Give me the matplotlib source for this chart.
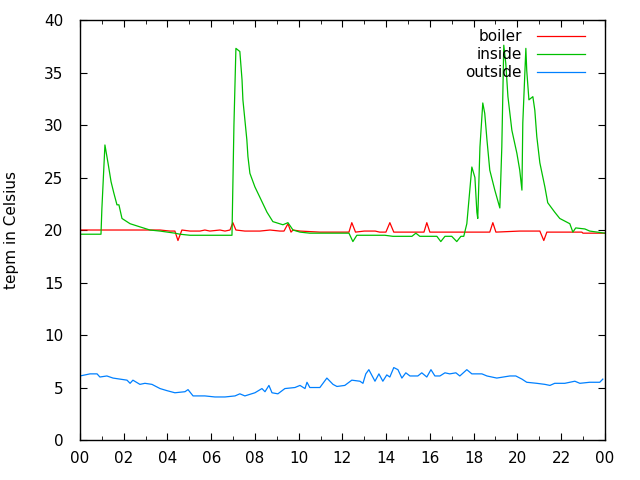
import numpy as np
import matplotlib
matplotlib.use('Agg')
import matplotlib.pyplot as plt
from matplotlib.ticker import MultipleLocator, FuncFormatter

# boiler (hours, deg C)
boiler_t = [0, 3.66, 4.11, 4.34, 4.48, 4.66, 5.03, 5.49, 5.71, 5.94, 6.4, 6.63, 6.86, 6.99, 7.13,
            7.54, 8.23, 8.69, 9.14, 9.33, 9.51, 9.65, 9.74, 10.06, 10.97, 12.3, 12.43, 12.6, 13.0,
            13.5, 13.7, 13.99, 14.17, 14.35, 15.73, 15.86, 16.0, 18.74, 18.88, 19.02, 20.11, 21.03,
            21.21, 21.35, 22.95, 23.0, 24.0]
boiler_v = [20.0, 20.0, 19.9, 19.9, 19.0, 20.0, 19.9, 19.9, 20.0, 19.9, 20.0, 19.9, 20.0, 20.7, 20.0,
            19.9, 19.9, 20.0, 19.9, 19.9, 20.6, 19.8, 20.0, 19.9, 19.8, 19.8, 20.7, 19.8, 19.9,
            19.9, 19.8, 19.8, 20.7, 19.8, 19.8, 20.7, 19.8, 19.8, 20.7, 19.8, 19.9, 19.9,
            19.0, 19.8, 19.8, 19.7, 19.7]

# inside
inside_t = [0, 0.96, 1.0, 1.14, 1.28, 1.42, 1.55, 1.69, 1.78, 1.92, 2.29, 2.74, 3.2, 3.66, 4.34,
            4.57, 5.03, 6.95, 7.04, 7.13, 7.31, 7.41, 7.45, 7.54, 7.63, 7.68, 7.77, 8.0, 8.23,
            8.55, 8.82, 9.28, 9.51, 9.74, 10.06, 10.51, 12.3, 12.48, 12.66, 13.94, 14.31, 15.18,
            15.36, 15.54, 16.32, 16.5, 16.69, 17.0, 17.23, 17.42, 17.55, 17.69, 17.92, 18.06,
            18.15, 18.19, 18.29, 18.42, 18.51, 18.61, 18.74, 18.97, 19.2, 19.29, 19.38, 19.47,
            19.57, 19.75, 19.98, 20.11, 20.21, 20.25, 20.39, 20.43, 20.53, 20.71, 20.8, 20.89,
            21.03, 21.26, 21.39, 21.71, 21.94, 22.4, 22.54, 22.67, 23.09, 23.31, 24.0]
inside_v = [19.6, 19.6, 22.0, 28.1, 26.4, 24.6, 23.5, 22.4, 22.4, 21.1, 20.6, 20.3, 20.0, 19.9, 19.7,
            19.6, 19.5, 19.5, 30.0, 37.3, 37.0, 34.3, 32.4, 30.5, 28.6, 27.0, 25.4, 24.1, 23.1,
            21.7, 20.8, 20.5, 20.7, 20.0, 19.8, 19.7, 19.7, 18.9, 19.5, 19.5, 19.4, 19.4,
            19.7, 19.4, 19.4, 18.9, 19.4, 19.4, 18.9, 19.4, 19.4, 20.6, 26.0, 25.0,
            21.7, 21.1, 27.9, 32.1, 31.1, 28.6, 25.7, 23.8, 22.1, 27.9, 37.6, 35.9,
            32.7, 29.5, 27.3, 25.7, 23.8, 30.2, 37.3, 35.2, 32.4, 32.7, 31.4, 28.9,
            26.4, 24.1, 22.6, 21.7, 21.1, 20.6, 19.8, 20.2, 20.1, 19.9, 19.7]

# outside
outside_t = [0, 0.46, 0.78, 0.91, 1.23, 1.51, 1.83, 2.15, 2.29, 2.42, 2.74, 2.97, 3.29, 3.66, 3.98,
             4.34, 4.8, 4.94, 5.17, 5.71, 6.17, 6.63, 7.09, 7.31, 7.54, 8.0, 8.32, 8.46, 8.64,
             8.78, 9.05, 9.37, 9.83, 10.06, 10.29, 10.38, 10.51, 10.97, 11.29, 11.57, 11.75,
             12.11, 12.43, 12.8, 12.94, 13.07, 13.21, 13.49, 13.67, 13.85, 14.03, 14.17, 14.35,
             14.54, 14.72, 14.9, 15.09, 15.45, 15.63, 15.86, 16.05, 16.23, 16.46, 16.69, 16.91,
             17.19, 17.37, 17.69, 17.92, 18.38, 18.61, 19.06, 19.66, 19.93, 20.21, 20.43, 20.89,
             21.26, 21.49, 21.71, 22.17, 22.4, 22.63, 22.86, 23.31, 23.77, 23.91]
outside_v = [6.1, 6.3, 6.3, 6.0, 6.1, 5.9, 5.8, 5.7, 5.4, 5.7, 5.3, 5.4, 5.3, 4.9, 4.7,
             4.5, 4.6, 4.8, 4.2, 4.2, 4.1, 4.1, 4.2, 4.4, 4.2, 4.5, 4.9, 4.6, 5.2,
             4.5, 4.4, 4.9, 5.0, 5.2, 4.9, 5.5, 5.0, 5.0, 5.9, 5.3, 5.1,
             5.2, 5.7, 5.6, 5.4, 6.3, 6.7, 5.6, 6.3, 5.6, 6.2, 6.0, 6.9,
             6.7, 5.9, 6.4, 6.1, 6.1, 6.4, 6.0, 6.7, 6.1, 6.1, 6.4, 6.3,
             6.4, 6.1, 6.7, 6.3, 6.3, 6.1, 5.9, 6.1, 6.1, 5.8, 5.5, 5.4,
             5.3, 5.2, 5.4, 5.4, 5.5, 5.6, 5.4, 5.5, 5.5, 5.8]

fig = plt.figure(figsize=(6.4, 4.8), dpi=100)
ax = fig.add_axes([0.125, 0.0833, 0.82, 0.875])

lw = 0.9
ax.plot(boiler_t, boiler_v, color='#ff0000', lw=lw, label='boiler')
ax.plot(inside_t, inside_v, color='#00c000', lw=lw, label='inside')
ax.plot(outside_t, outside_v, color='#0080ff', lw=lw, label='outside')

ax.set_xlim(0, 24)
ax.set_ylim(0, 40)
ax.xaxis.set_major_locator(MultipleLocator(2))
ax.xaxis.set_minor_locator(MultipleLocator(1))
ax.yaxis.set_major_locator(MultipleLocator(5))
ax.xaxis.set_major_formatter(FuncFormatter(lambda x, p: '%02d' % (int(round(x)) % 24)))
ax.tick_params(which='both', direction='in', top=True, right=True, labelsize=11)
ax.tick_params(axis='x', pad=8)
ax.tick_params(axis='y', pad=12)
ax.tick_params(which='major', length=5)
ax.tick_params(which='minor', length=3)
for s in ax.spines.values():
  s.set_linewidth(1.0)

ax.set_ylabel('tepm in Celsius', fontsize=11, labelpad=18)

ax.legend(loc='upper right', frameon=False, markerfirst=False, fontsize=11,
    handlelength=3.1, handletextpad=1.0, labelspacing=0.2, borderaxespad=0.0,
    bbox_to_anchor=(0.973, 0.993))

fig.savefig('out.png', dpi=100)
